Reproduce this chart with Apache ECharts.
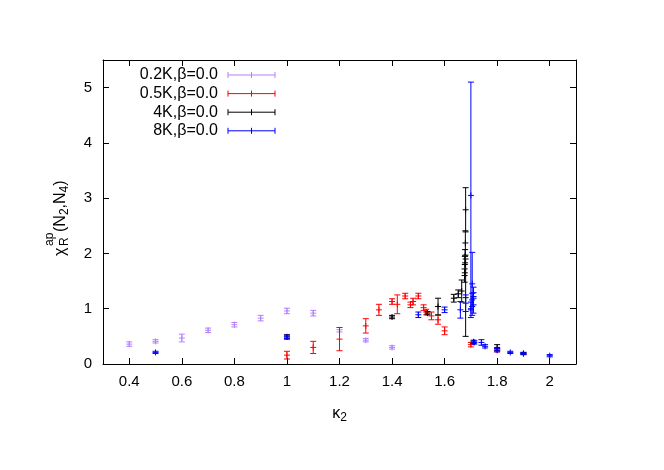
<!DOCTYPE html>
<html>
<head>
<meta charset="utf-8">
<script src="https://cdn.jsdelivr.net/npm/echarts@6/dist/echarts.min.js"></script>
<style>
html, body { margin: 0; padding: 0; background: #fff; }
#chart { width: 664px; height: 470px; }
</style>
</head>
<body>
<div id="chart"></div>
<script>
// kappa_2, chi and error half-width for each run
const k2_02K = [0.4, 0.5, 0.6, 0.7, 0.8, 0.9, 1.0, 1.1, 1.2, 1.3, 1.4]
const chi_02K = [0.36, 0.41, 0.47, 0.61, 0.71, 0.83, 0.96, 0.92, 0.62, 0.43, 0.30]
const err_02K = [0.04, 0.03, 0.07, 0.04, 0.04, 0.05, 0.05, 0.05, 0.04, 0.03, 0.03]

const k2_05K = [1.0, 1.1, 1.2, 1.3, 1.35, 1.4, 1.42, 1.45, 1.47, 1.48, 1.5, 1.52, 1.53, 1.55, 1.575, 1.6, 1.7, 1.8]
const chi_05K = [0.16, 0.30, 0.45, 0.69, 0.98, 1.13, 1.08, 1.23, 1.07, 1.13, 1.23, 1.02, 0.94, 0.87, 0.80, 0.60, 0.35, 0.25]
const err_05K = [0.07, 0.11, 0.21, 0.13, 0.10, 0.05, 0.17, 0.05, 0.05, 0.06, 0.05, 0.05, 0.05, 0.07, 0.08, 0.07, 0.04, 0.03]

const k2_4K = [1.0, 1.4, 1.535, 1.575, 1.635, 1.652, 1.665, 1.68, 1.679, 1.678, 1.677, 1.676, 1.68, 1.71, 1.8, 1.9]
const chi_4K = [0.49, 0.85, 0.92, 1.04, 1.19, 1.27, 1.32, 2.79, 2.19, 1.95, 1.80, 1.60, 1.20, 0.40, 0.30, 0.19]
const err_4K = [0.04, 0.03, 0.03, 0.15, 0.07, 0.07, 0.20, 0.40, 0.22, 0.12, 0.15, 0.12, 0.70, 0.03, 0.05, 0.02]

const k2_8K = [0.5, 1.0, 1.5, 1.6, 1.66, 1.68, 1.70, 1.705, 1.71, 1.705, 1.71, 1.70, 1.713, 1.74, 1.754, 1.8, 1.85, 1.9, 2.0]
const chi_8K = [0.21, 0.49, 0.89, 0.98, 0.98, 1.10, 3.05, 1.45, 1.29, 1.16, 1.07, 0.98, 0.39, 0.39, 0.32, 0.25, 0.21, 0.19, 0.15]
const err_8K = [0.02, 0.03, 0.05, 0.05, 0.15, 0.15, 2.05, 0.57, 0.10, 0.12, 0.15, 0.14, 0.03, 0.05, 0.03, 0.03, 0.02, 0.02, 0.02]

const xTicks = [0.4, 0.6, 0.8, 1, 1.2, 1.4, 1.6, 1.8, 2]
const yTicks = [0, 1, 2, 3, 4, 5]

const runNames = ['0.2K,β=0.0', '0.5K,β=0.0', '4K,β=0.0', '8K,β=0.0']
const runColors = ['#b480ff', '#ff0000', '#000000', '#0000ff']

const FONT = '"Liberation Sans", Arial, sans-serif'

let chart = echarts.init(document.getElementById('chart'))

function rows (xs, ys, es) {
  return xs.map(function (x, i) {
    return [x, ys[i], es[i]]
  })
}

// vertical error bar with caps and a small '+' at the value
function errorBars (color) {
  return function (params, api) {
    let x = api.value(0)
    let y = api.value(1)
    let e = api.value(2)
    let c = api.coord([x, y])
    let top = api.coord([x, y + e])[1]
    let bot = api.coord([x, y - e])[1]
    let st = { stroke: color, lineWidth: 1 }
    return {
      type: 'group',
      children: [
        { type: 'line', shape: { x1: c[0], y1: top, x2: c[0], y2: bot }, style: st },
        { type: 'line', shape: { x1: c[0] - 3, y1: top, x2: c[0] + 3, y2: top }, style: st },
        { type: 'line', shape: { x1: c[0] - 3, y1: bot, x2: c[0] + 3, y2: bot }, style: st },
        { type: 'line', shape: { x1: c[0] - 3, y1: c[1], x2: c[0] + 3, y2: c[1] }, style: st },
        { type: 'line', shape: { x1: c[0], y1: c[1] - 3, x2: c[0], y2: c[1] + 3 }, style: st }
      ]
    }
  }
}

let runData = [
  rows(k2_02K, chi_02K, err_02K),
  rows(k2_05K, chi_05K, err_05K),
  rows(k2_4K, chi_4K, err_4K),
  rows(k2_8K, chi_8K, err_8K)
]

let series = runData.map(function (d, i) {
  return {
    name: runNames[i],
    type: 'custom',
    renderItem: errorBars(runColors[i]),
    encode: { x: 0, y: 1 },
    data: d,
    z: 2 + i
  }
})

// key in the upper left: text right aligned, sample bar to its right
let legendItems = []
runNames.forEach(function (name, i) {
  let cy = 75 + i * 18.6
  let st = { stroke: runColors[i], lineWidth: 1 }
  legendItems.push(
    { type: 'text', x: 218, y: cy, style: { text: name, font: '16px ' + FONT, fill: '#000', align: 'right', textAlign: 'right', verticalAlign: 'middle', textVerticalAlign: 'middle' } },
    { type: 'line', shape: { x1: 228, y1: cy, x2: 275, y2: cy }, style: st },
    { type: 'line', shape: { x1: 228, y1: cy - 3, x2: 228, y2: cy + 3 }, style: st },
    { type: 'line', shape: { x1: 275, y1: cy - 3, x2: 275, y2: cy + 3 }, style: st },
    { type: 'line', shape: { x1: 251.5, y1: cy - 3, x2: 251.5, y2: cy + 3 }, style: st }
  )
})

// y axis title, rotated, with stacked super/subscript
let ytitle = {
  type: 'group',
  x: 61,
  y: 256,
  rotation: Math.PI / 2,
  children: [
    { type: 'text', x: 0, y: 0, style: { text: 'χ', font: '16px ' + FONT, fill: '#000', verticalAlign: 'middle', textVerticalAlign: 'middle' } },
    { type: 'text', x: 10, y: -11, style: { text: 'ap', font: '12px ' + FONT, fill: '#000', verticalAlign: 'middle', textVerticalAlign: 'middle' } },
    { type: 'text', x: 10, y: 4, style: { text: 'R', font: '12px ' + FONT, fill: '#000', verticalAlign: 'middle', textVerticalAlign: 'middle' } },
    {
      type: 'text',
      x: 24,
      y: 0,
      style: {
        text: '{m|(N}{s|2}{m|,N}{s|4}{m|)}',
        fill: '#000',
        verticalAlign: 'middle',
        textVerticalAlign: 'middle',
        rich: {
          m: { fontSize: 16, fontFamily: FONT, lineHeight: 20 },
          s: { fontSize: 12, fontFamily: FONT, lineHeight: 11, verticalAlign: 'bottom' }
        }
      }
    }
  ]
}

function axisBase (extra) {
  return Object.assign({
    type: 'value',
    axisLine: { show: true, onZero: false, lineStyle: { color: '#000', width: 1 } },
    splitLine: { show: false }
  }, extra)
}

let option = {
  animation: false,
  backgroundColor: '#fff',
  grid: { left: 103, right: 88, top: 60, bottom: 106, outerBoundsMode: 'none' },
  xAxis: [
    axisBase({
      min: 0.3,
      max: 2.1,
      position: 'bottom',
      axisTick: { inside: true, length: 6, customValues: xTicks, lineStyle: { color: '#000' } },
      axisLabel: { customValues: xTicks, margin: 10, fontSize: 15, fontFamily: FONT, color: '#000' },
      name: '{k|κ}{s|2}',
      nameLocation: 'middle',
      nameGap: 40,
      nameTextStyle: {
        rich: {
          k: { fontSize: 16, fontFamily: FONT, color: '#000', lineHeight: 20 },
          s: { fontSize: 12, fontFamily: FONT, color: '#000', lineHeight: 11, verticalAlign: 'bottom' }
        }
      }
    }),
    axisBase({
      min: 0.3,
      max: 2.1,
      position: 'top',
      axisTick: { inside: true, length: 6, customValues: xTicks, lineStyle: { color: '#000' } },
      axisLabel: { show: false }
    })
  ],
  yAxis: [
    axisBase({
      min: 0,
      max: 5.5,
      position: 'left',
      axisTick: { inside: true, length: 6, customValues: yTicks, lineStyle: { color: '#000' } },
      axisLabel: { customValues: yTicks, margin: 11, fontSize: 15, fontFamily: FONT, color: '#000' }
    }),
    axisBase({
      min: 0,
      max: 5.5,
      position: 'right',
      axisTick: { inside: true, length: 6, customValues: yTicks, lineStyle: { color: '#000' } },
      axisLabel: { show: false }
    })
  ],
  graphic: legendItems.concat([ytitle]),
  series: series
}

chart.setOption(option)
</script>
</body>
</html>
